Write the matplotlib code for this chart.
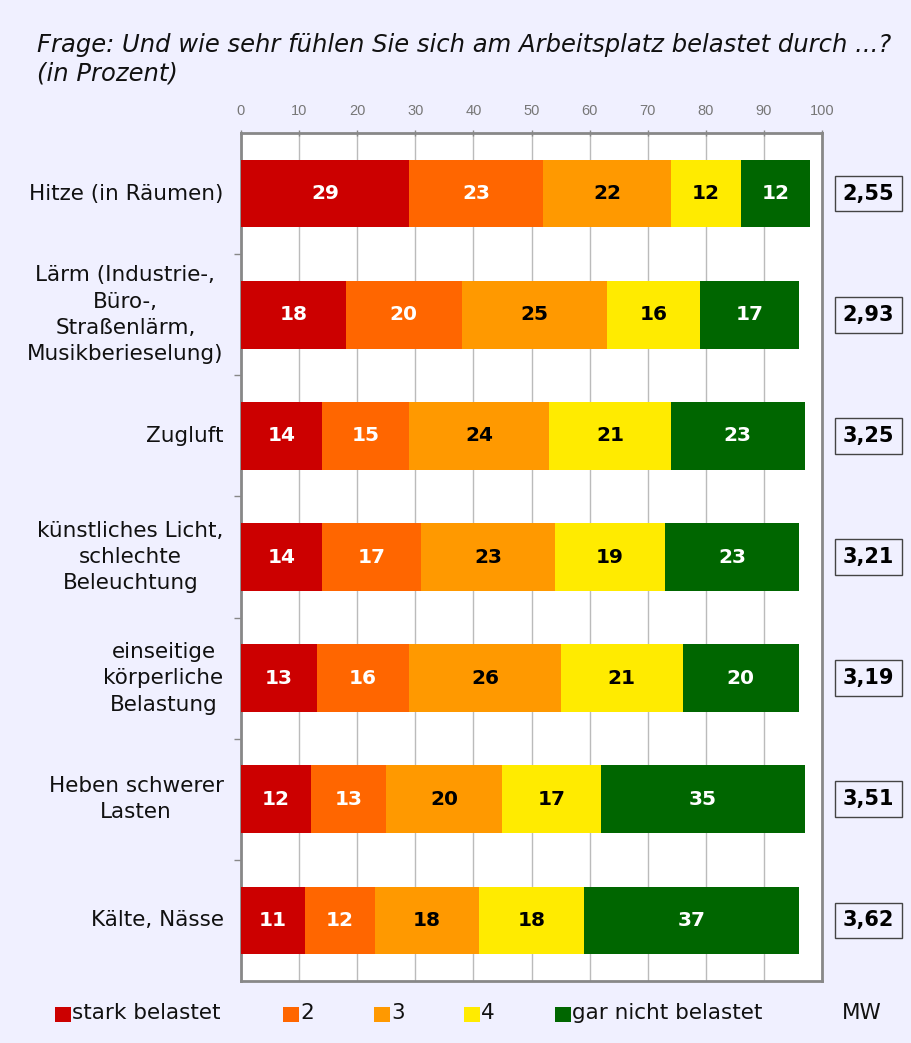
import numpy as np
import matplotlib
matplotlib.use("Agg")
import matplotlib.pyplot as plt
from matplotlib.patches import Rectangle

plt.rcParams['font.family'] = ['DejaVu Sans']

categories = [
    "Hitze (in Räumen)",
    "Lärm (Industrie-,\nBüro-,\nStraßenlärm,\nMusikberieselung)",
    "Zugluft",
    "künstliches Licht,\nschlechte\nBeleuchtung",
    "einseitige\nkörperliche\nBelastung",
    "Heben schwerer\nLasten",
    "Kälte, Nässe",
]
series_names = ["stark belastet", "2", "3", "4", "gar nicht belastet"]
stark = [29, 18, 14, 14, 13, 12, 11]
s2 = [23, 20, 15, 17, 16, 13, 12]
s3 = [22, 25, 24, 23, 26, 20, 18]
s4 = [12, 16, 21, 19, 21, 17, 18]
gar_nicht = [12, 17, 23, 23, 20, 35, 37]
mw = ["2,55", "2,93", "3,25", "3,21", "3,19", "3,51", "3,62"]
ticks = list(range(0, 101, 10))

colors = ["#CC0000", "#FF6600", "#FF9900", "#FFEB00", "#006600"]
text_colors = ["white", "white", "black", "black", "white"]
bg = "#F0F0FF"

fig = plt.figure(figsize=(9.12, 10.43), dpi=100, facecolor=bg)
ax = fig.add_axes([241 / 912, 1 - 981 / 1043, 581 / 912, 848 / 1043])
ax.set_facecolor("white")

values = np.array([stark, s2, s3, s4, gar_nicht])
y = np.arange(len(categories))
left = np.zeros(len(categories))
for i, vals in enumerate(values):
    ax.barh(y, vals, left=left, height=0.56, color=colors[i], zorder=3)
    for j, v in enumerate(vals):
        ax.text(left[j] + v / 2, y[j], str(v), ha="center", va="center",
                color=text_colors[i], fontsize=14.5, fontweight="bold", zorder=4)
    left += vals

ax.set_xlim(0, 100)
ax.set_ylim(len(categories) - 0.5, -0.5)
ax.xaxis.tick_top()
ax.set_xticks(ticks)
ax.set_xticklabels([str(t) for t in ticks], color="#777777", fontsize=10.5,
                   family="Liberation Sans")
ax.tick_params(axis="x", length=5, width=1, color="#888888", pad=8, direction="inout")
ax.grid(axis="x", color="#BBBBBB", linewidth=1, zorder=0)

ax.set_yticks(y)
ax.set_yticklabels([])
ax.tick_params(axis="y", length=0)
ax.set_yticks(np.arange(0.5, len(categories) - 1, 1), minor=True)
ax.tick_params(axis="y", which="minor", length=5, width=1, color="#888888")
for j, c in enumerate(categories):
    ax.text(-3, y[j], c, ha="right", va="center", multialignment="center",
            fontsize=15.5, color="#111111", linespacing=1.4, clip_on=False)

for s in ax.spines.values():
    s.set_color("#888888")
    s.set_linewidth(2)

# MW boxes
for j, m in enumerate(mw):
    ax.text(108, y[j], m, ha="center", va="center", fontsize=15, fontweight="bold",
            color="black", clip_on=False,
            bbox=dict(boxstyle="square,pad=0.38", facecolor=bg, edgecolor="#444444", linewidth=1))

fig.text(37 / 912, 1 - 59 / 1043,
         "Frage: Und wie sehr fühlen Sie sich am Arbeitsplatz belastet durch ...?\n(in Prozent)",
         ha="left", va="center", style="italic", fontsize=17.5, color="#111111", linespacing=1.25)

# legend
leg_x = [55, 283, 374, 464, 555]
for i, name in enumerate(series_names):
    fig.patches.append(Rectangle((leg_x[i] / 912, 1 - 1022 / 1043), 16 / 912, 15 / 1043,
                                 transform=fig.transFigure, facecolor=colors[i], edgecolor="none"))
    fig.text((leg_x[i] + 17) / 912, 1 - 1013 / 1043, name, ha="left", va="center",
             fontsize=15.5, color="#111111")
fig.text(862 / 912, 1 - 1013 / 1043, "MW", ha="center", va="center", fontsize=15.5, color="#111111")

fig.savefig("out.png", dpi=100, facecolor=bg)
